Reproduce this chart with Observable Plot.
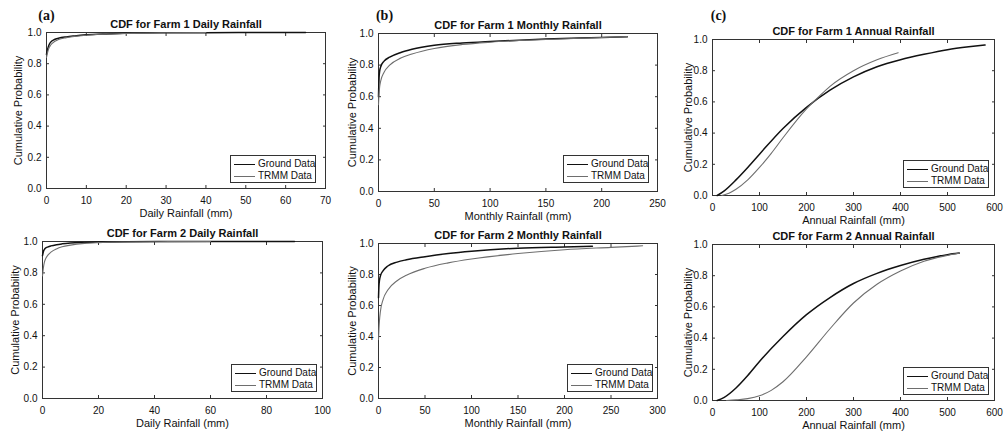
<!DOCTYPE html>
<html><head><meta charset="utf-8">
<script src="https://cdn.jsdelivr.net/npm/d3@7"></script>
<script src="https://cdn.jsdelivr.net/npm/@observablehq/plot@0.6"></script>
<style>
body{margin:0;background:#fff;}
#root{position:relative;width:1004px;height:434px;overflow:hidden;font-family:"Liberation Sans",Arial,sans-serif;color:#111;}
.panel{position:absolute;}
.panel svg{overflow:visible;}
.legend{position:absolute;width:86px;height:28px;border:1px solid #333;background:#fff;box-sizing:border-box;font-size:10px;}
.legend .row{position:absolute;left:0;height:12px;width:100%;}
.legend .ln{position:absolute;left:3px;width:21px;top:6px;}
.legend .tx{position:absolute;left:27px;top:0;line-height:12px;white-space:nowrap;}
</style></head>
<body><div id="root"></div>
<script>
// ---------- data ----------
const seriesNames = ["Ground Data", "TRMM Data"];
const yTicks = [0, 0.2, 0.4, 0.6, 0.8, 1.0];

// Farm 1 daily
const f1DailyGroundX = [0, 0.3, 0.7, 1, 2, 3, 5, 7, 10, 15, 20, 30, 40, 50, 65];
const f1DailyGroundP = [0.86, 0.895, 0.925, 0.937, 0.955, 0.963, 0.972, 0.978, 0.985, 0.991, 0.995, 0.998, 0.999, 1.0, 1.0];
const f1DailyTrmmX = [0, 0.3, 0.7, 1, 2, 3, 5, 7, 10, 15, 20, 30, 40];
const f1DailyTrmmP = [0.84, 0.875, 0.905, 0.918, 0.942, 0.955, 0.967, 0.975, 0.982, 0.99, 0.994, 0.998, 1.0];
// Farm 2 daily
const f2DailyGroundX = [0, 0.3, 0.7, 1, 2, 3, 5, 7, 10, 15, 20, 30, 50, 70, 90];
const f2DailyGroundP = [0.91, 0.935, 0.95, 0.957, 0.966, 0.972, 0.98, 0.985, 0.99, 0.994, 0.997, 0.999, 1.0, 1.0, 1.0];
const f2DailyTrmmX = [0, 0.3, 0.7, 1, 2, 3, 5, 7, 10, 15, 20, 30, 45, 60];
const f2DailyTrmmP = [0.78, 0.83, 0.87, 0.885, 0.915, 0.932, 0.953, 0.966, 0.977, 0.988, 0.993, 0.997, 0.999, 1.0];
// Farm 1 monthly
const f1MonthlyGroundX = [0, 0.5, 1, 2, 5, 10, 20, 30, 50, 75, 100, 150, 200, 223];
const f1MonthlyGroundP = [0.6, 0.72, 0.76, 0.79, 0.825, 0.85, 0.88, 0.9, 0.925, 0.94, 0.95, 0.965, 0.975, 0.98];
const f1MonthlyTrmmX = [0, 0.5, 1, 2, 5, 10, 20, 30, 50, 75, 100, 150, 200, 223];
const f1MonthlyTrmmP = [0.55, 0.62, 0.66, 0.7, 0.755, 0.8, 0.845, 0.87, 0.905, 0.93, 0.945, 0.962, 0.975, 0.98];
// Farm 2 monthly
const f2MonthlyGroundX = [0, 0.5, 1, 2, 5, 10, 20, 30, 50, 75, 100, 150, 200, 230];
const f2MonthlyGroundP = [0.65, 0.73, 0.76, 0.79, 0.825, 0.855, 0.88, 0.895, 0.915, 0.935, 0.95, 0.97, 0.978, 0.982];
const f2MonthlyTrmmX = [0, 0.5, 1, 2, 5, 10, 20, 30, 50, 75, 100, 150, 200, 250, 284];
const f2MonthlyTrmmP = [0.38, 0.45, 0.5, 0.56, 0.64, 0.7, 0.76, 0.795, 0.84, 0.875, 0.9, 0.935, 0.96, 0.975, 0.985];
// Farm 1 annual
const f1AnnualGroundX = [10, 25, 50, 75, 100, 150, 200, 250, 300, 350, 400, 450, 500, 550, 580];
const f1AnnualGroundP = [0, 0.03, 0.1, 0.18, 0.265, 0.43, 0.565, 0.675, 0.76, 0.825, 0.87, 0.905, 0.935, 0.955, 0.965];
const f1AnnualTrmmX = [20, 35, 50, 75, 100, 125, 150, 200, 225, 250, 300, 350, 395];
const f1AnnualTrmmP = [0, 0.015, 0.04, 0.1, 0.18, 0.27, 0.37, 0.555, 0.63, 0.7, 0.8, 0.87, 0.915];
// Farm 2 annual
const f2AnnualGroundX = [10, 25, 50, 75, 100, 150, 200, 250, 300, 350, 400, 450, 500, 525];
const f2AnnualGroundP = [0, 0.02, 0.08, 0.16, 0.25, 0.41, 0.55, 0.66, 0.75, 0.815, 0.865, 0.905, 0.935, 0.945];
const f2AnnualTrmmX = [30, 50, 75, 100, 125, 150, 200, 250, 300, 350, 400, 450, 500, 525];
const f2AnnualTrmmP = [0, 0.004, 0.012, 0.03, 0.065, 0.12, 0.28, 0.46, 0.625, 0.745, 0.83, 0.893, 0.93, 0.945];

const dailyTicks1 = [0, 10, 20, 30, 40, 50, 60, 70];
const dailyTicks2 = [0, 20, 40, 60, 80, 100];
const monthlyTicks1 = [0, 50, 100, 150, 200, 250];
const monthlyTicks2 = [0, 50, 100, 150, 200, 250, 300];
const annualTicks = [0, 100, 200, 300, 400, 500, 600];

const zip = (xs, ps) => xs.map((x, i) => ({x, p: ps[i]}));

// ---------- layout ----------
const panels = [
  {tag: "(a)", title: "CDF for Farm 1 Daily Rainfall", xlabel: "Daily Rainfall (mm)", ticks: dailyTicks1,
   g: zip(f1DailyGroundX, f1DailyGroundP), t: zip(f1DailyTrmmX, f1DailyTrmmP),
   box: [0, 0, 335, 217], frame: [46, 32, 325, 188], ylab: -28, tagDx: 0, leg: [9, 5]},
  {tag: "(b)", title: "CDF for Farm 1 Monthly Rainfall", xlabel: "Monthly Rainfall (mm)", ticks: monthlyTicks1,
   g: zip(f1MonthlyGroundX, f1MonthlyGroundP), t: zip(f1MonthlyTrmmX, f1MonthlyTrmmP),
   box: [335, 0, 670, 217], frame: [378, 33, 657, 191], ylab: -26, tagDx: 6, leg: [8, 8]},
  {tag: "(c)", title: "CDF for Farm 1 Annual Rainfall", xlabel: "Annual Rainfall (mm)", ticks: annualTicks,
   g: zip(f1AnnualGroundX, f1AnnualGroundP), t: zip(f1AnnualTrmmX, f1AnnualTrmmP),
   box: [670, 0, 1004, 217], frame: [712, 39, 994, 195], ylab: -24, tagDx: 6, leg: [5, 7]},
  {tag: null, title: "CDF for Farm 2 Daily Rainfall", xlabel: "Daily Rainfall (mm)", ticks: dailyTicks2,
   g: zip(f2DailyGroundX, f2DailyGroundP), t: zip(f2DailyTrmmX, f2DailyTrmmP),
   box: [0, 217, 335, 434], frame: [42, 241, 322, 398], ylab: -27, leg: [5, 6]},
  {tag: null, title: "CDF for Farm 2 Monthly Rainfall", xlabel: "Monthly Rainfall (mm)", ticks: monthlyTicks2,
   g: zip(f2MonthlyGroundX, f2MonthlyGroundP), t: zip(f2MonthlyTrmmX, f2MonthlyTrmmP),
   box: [335, 217, 670, 434], frame: [378, 243, 657, 398], ylab: -26, leg: [4, 6]},
  {tag: null, title: "CDF for Farm 2 Annual Rainfall", xlabel: "Annual Rainfall (mm)", ticks: annualTicks,
   g: zip(f2AnnualGroundX, f2AnnualGroundP), t: zip(f2AnnualTrmmX, f2AnnualTrmmP),
   box: [670, 217, 1004, 434], frame: [712, 244, 994, 400], ylab: -24, leg: [5, 5]}
];

const root = document.getElementById("root");
const GROUND = "#111111", TRMM = "#6e6e6e", AX = "#333333";

for (const P of panels) {
  const [bx0, by0, bx1, by1] = P.box;
  const [fx0, fy0, fx1, fy1] = P.frame;
  const marks = [
    Plot.frame({stroke: AX}),
    Plot.axisX(P.ticks, {anchor: "bottom", tickSize: -3, tickPadding: 11, stroke: AX, fill: "#111", fontSize: 10}),
    Plot.axisX(P.ticks, {anchor: "top", tickSize: -3, stroke: AX, tickFormat: () => ""}),
    Plot.axisY(yTicks, {anchor: "left", tickSize: -3, tickPadding: 8, stroke: AX, fill: "#111", fontSize: 10, tickFormat: d3.format(".1f")}),
    Plot.axisY(yTicks, {anchor: "right", tickSize: -3, stroke: AX, tickFormat: () => ""}),
    Plot.line(P.g, {x: "x", y: "p", stroke: GROUND, strokeWidth: 1.5, curve: "monotone-x"}),
    Plot.line(P.t, {x: "x", y: "p", stroke: TRMM, strokeWidth: 1.1, curve: "monotone-x"}),
    Plot.text([P.title], {frameAnchor: "top", dy: -8, lineAnchor: "middle", fontWeight: "bold", fontSize: 11, fill: "#111"}),
    Plot.text([P.xlabel], {frameAnchor: "bottom", dy: 25, lineAnchor: "middle", fontSize: 11, fill: "#111"}),
    Plot.text(["Cumulative Probability"], {frameAnchor: "left", dx: P.ylab, rotate: -90, textAnchor: "middle", lineAnchor: "middle", fontSize: 11, fill: "#111"})
  ];
  if (P.tag) marks.push(Plot.text([P.tag], {frameAnchor: "top-left", dx: P.tagDx, dy: -(fy0 - 15 - by0), lineAnchor: "middle", textAnchor: "middle", fontFamily: "Liberation Serif", fontWeight: "bold", fontSize: 14, fill: "#111"}));
  const svg = Plot.plot({
    width: bx1 - bx0, height: by1 - by0,
    marginLeft: fx0 - bx0, marginRight: bx1 - fx1, marginTop: fy0 - by0, marginBottom: by1 - fy1,
    x: {domain: [P.ticks[0], P.ticks[P.ticks.length - 1]], label: null},
    y: {domain: [0, 1], label: null},
    style: {fontFamily: '"Liberation Sans", Arial, sans-serif', fontSize: "10px", background: "transparent", overflow: "visible"},
    marks
  });
  const wrap = document.createElement("div");
  wrap.className = "panel";
  wrap.style.left = bx0 + "px"; wrap.style.top = by0 + "px";
  wrap.appendChild(svg);
  root.appendChild(wrap);

  // legend inside the axes (bottom-right)
  const lg = document.createElement("div");
  lg.className = "legend";
  lg.style.left = (fx1 - P.leg[0] - 86) + "px";
  lg.style.top = (fy1 - P.leg[1] - 28) + "px";
  seriesNames.forEach((name, i) => {
    const row = document.createElement("div");
    row.className = "row";
    row.style.top = (2 + i * 12) + "px";
    const ln = document.createElement("div");
    ln.className = "ln";
    ln.style.borderTop = i === 0 ? `1.5px solid ${GROUND}` : `1.2px solid ${TRMM}`;
    const tx = document.createElement("div");
    tx.className = "tx";
    tx.textContent = name;
    row.appendChild(ln); row.appendChild(tx);
    lg.appendChild(row);
  });
  root.appendChild(lg);
}
</script></body></html>
